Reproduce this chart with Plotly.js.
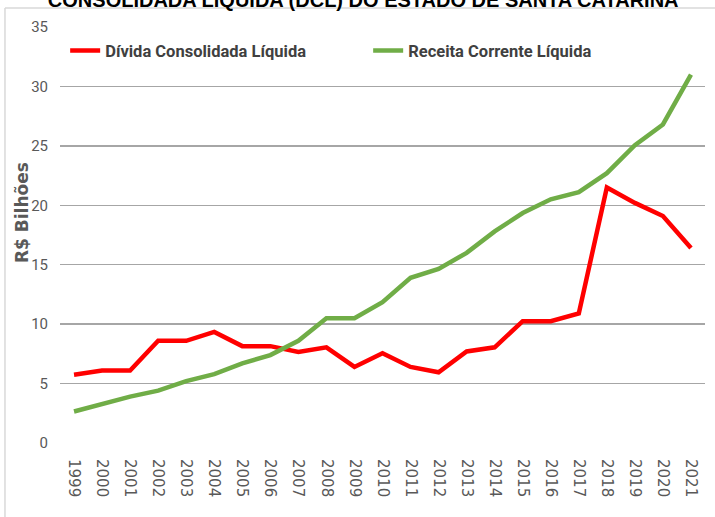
<!DOCTYPE html>
<html>
<head>
<meta charset="utf-8">
<script src="https://cdn.plot.ly/plotly-3.0.1.min.js"></script>
<style>html,body{margin:0;padding:0;background:#fff;}#chart{width:715px;height:517px;}</style>
</head>
<body>
<div id="chart"></div>
<script>
const years = ["1999","2000","2001","2002","2003","2004","2005","2006","2007","2008","2009","2010","2011","2012","2013","2014","2015","2016","2017","2018","2019","2020","2021"];
const divida = [5.75,6.1,6.1,8.6,8.6,9.35,8.15,8.15,7.65,8.05,6.4,7.55,6.4,5.95,7.7,8.05,10.25,10.25,10.9,21.5,20.2,19.1,16.4];
const receita = [2.65,3.3,3.9,4.4,5.2,5.8,6.7,7.4,8.6,10.5,10.5,11.85,13.9,14.65,16.0,17.8,19.35,20.5,21.1,22.7,25.05,26.8,31.0];
const yTicks = [0,5,10,15,20,25,30,35];

const traces = [
  {x: years, y: divida, type: 'scatter', mode: 'lines', name: 'Dívida Consolidada Líquida',
   line: {color: '#FF0000', width: 4.5}},
  {x: years, y: receita, type: 'scatter', mode: 'lines', name: 'Receita Corrente Líquida',
   line: {color: '#70AD47', width: 4.5}}
];

const layout = {
  width: 715, height: 517,
  margin: {l: 60, r: 10, t: 27, b: 74},
  paper_bgcolor: '#ffffff', plot_bgcolor: '#ffffff',
  showlegend: true,
  title: {text: 'CONSOLIDADA LÍQUIDA (DCL) DO ESTADO DE SANTA CATARINA',
          x: 0.508, xref: 'container', xanchor: 'center',
          y: 1, yref: 'container', yanchor: 'middle',
          font: {family: 'Liberation Sans, Arial, sans-serif', size: 20, color: '#000000', weight: 'bold'}},
  legend: {orientation: 'h', x: 0.008, xanchor: 'left', y: 0.985, yanchor: 'top',
           bgcolor: 'rgba(0,0,0,0)', itemwidth: 30, entrywidth: 258, entrywidthmode: 'pixels',
           font: {family: 'Roboto, sans-serif', size: 16.5, color: '#404040', weight: 'bold'}},
  xaxis: {type: 'category', tickangle: 90, showgrid: false, zeroline: false, showline: false,
          ticks: '', ticklabelstandoff: 15,
          tickfont: {family: 'DejaVu Sans, Verdana, sans-serif', size: 15, color: '#595959'},
          range: [-0.5, years.length - 0.5]},
  yaxis: {range: [0, 35], tickvals: yTicks, ticktext: yTicks.map(String), showgrid: true,
          gridcolor: '#a6a6a6', gridwidth: 1.5, zeroline: false, showline: false, ticks: '',
          ticklabelstandoff: 11,
          tickfont: {family: 'Roboto, sans-serif', size: 15, color: '#595959'}},
  annotations: [
    {text: 'R$ Bilhões', xref: 'paper', yref: 'paper', x: -0.059, y: 0.555,
     xanchor: 'center', yanchor: 'middle', textangle: -90, showarrow: false,
     font: {family: 'DejaVu Sans, Verdana, sans-serif', size: 17, color: '#595959', weight: 'bold'}}
  ],
  shapes: [
    {type: 'line', xref: 'paper', yref: 'paper', x0: -0.0853, x1: 1.02, y0: 1.0457, y1: 1.0457,
     line: {color: '#d9d9d9', width: 1.5}},
    {type: 'line', xref: 'paper', yref: 'paper', x0: -0.0853, x1: -0.0853, y0: 1.0457, y1: -0.2,
     line: {color: '#d9d9d9', width: 1.5}}
  ]
};

Plotly.newPlot('chart', traces, layout, {displayModeBar: false, staticPlot: true});
</script>
</body>
</html>
